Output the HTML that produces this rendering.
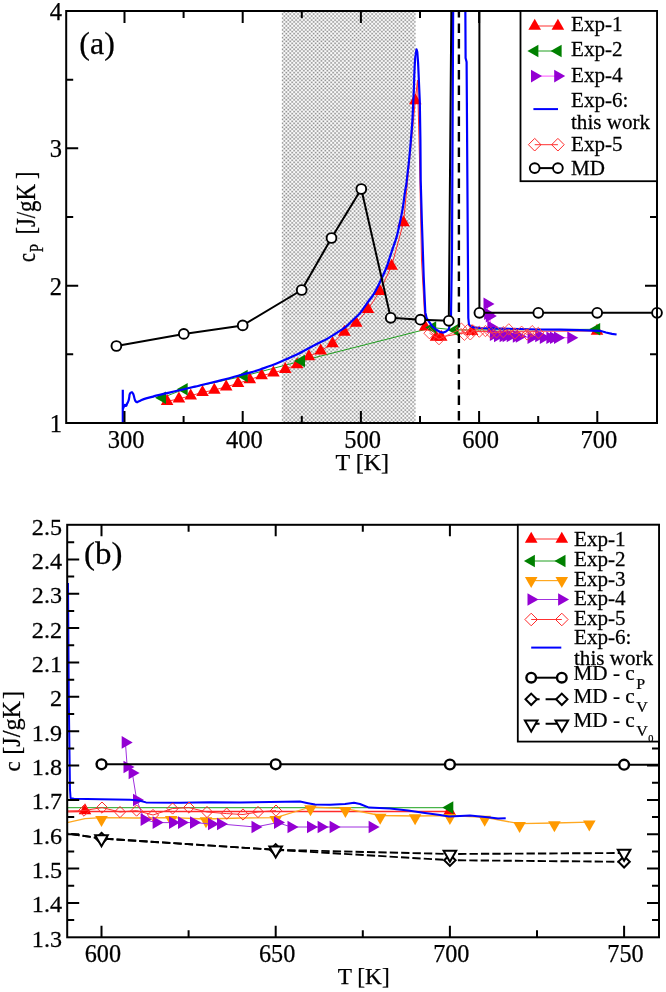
<!DOCTYPE html>
<html lang="en"><head><meta charset="utf-8"><title>Specific heat figure</title>
<style>html,body{margin:0;padding:0;background:#fff;}svg{display:block;}text{font-family:'Liberation Serif', 'DejaVu Serif', serif;fill:#000;stroke:#000;stroke-width:0.25px;}</style>
</head><body>
<svg width="666" height="992" viewBox="0 0 666 992">
<defs>
<clipPath id="clipA"><rect x="66.2" y="11.0" width="590.8" height="412.0"/></clipPath>
<clipPath id="clipB"><rect x="67.2" y="524.8" width="591.8" height="412.5"/></clipPath>
</defs>
<rect width="666" height="992" fill="#fff"/>
<clipPath id="clipS"><rect x="281.6" y="11.0" width="134.1" height="412.0"/></clipPath>
<g clip-path="url(#clipS)">
<rect x="281.6" y="11.0" width="134.1" height="412.0" fill="#fdfdfd"/>
<path d="M281.6 10.25H415.7M281.6 14.15H415.7M281.6 18.05H415.7M281.6 21.95H415.7M281.6 25.85H415.7M281.6 29.75H415.7M281.6 33.65H415.7M281.6 37.55H415.7M281.6 41.45H415.7M281.6 45.35H415.7M281.6 49.25H415.7M281.6 53.15H415.7M281.6 57.05H415.7M281.6 60.95H415.7M281.6 64.85H415.7M281.6 68.75H415.7M281.6 72.65H415.7M281.6 76.55H415.7M281.6 80.45H415.7M281.6 84.35H415.7M281.6 88.25H415.7M281.6 92.15H415.7M281.6 96.05H415.7M281.6 99.95H415.7M281.6 103.85H415.7M281.6 107.75H415.7M281.6 111.65H415.7M281.6 115.55H415.7M281.6 119.45H415.7M281.6 123.35H415.7M281.6 127.25H415.7M281.6 131.15H415.7M281.6 135.05H415.7M281.6 138.95H415.7M281.6 142.85H415.7M281.6 146.75H415.7M281.6 150.65H415.7M281.6 154.55H415.7M281.6 158.45H415.7M281.6 162.35H415.7M281.6 166.25H415.7M281.6 170.15H415.7M281.6 174.05H415.7M281.6 177.95H415.7M281.6 181.85H415.7M281.6 185.75H415.7M281.6 189.65H415.7M281.6 193.55H415.7M281.6 197.45H415.7M281.6 201.35H415.7M281.6 205.25H415.7M281.6 209.15H415.7M281.6 213.05H415.7M281.6 216.95H415.7M281.6 220.85H415.7M281.6 224.75H415.7M281.6 228.65H415.7M281.6 232.55H415.7M281.6 236.45H415.7M281.6 240.35H415.7M281.6 244.25H415.7M281.6 248.15H415.7M281.6 252.05H415.7M281.6 255.95H415.7M281.6 259.85H415.7M281.6 263.75H415.7M281.6 267.65H415.7M281.6 271.55H415.7M281.6 275.45H415.7M281.6 279.35H415.7M281.6 283.25H415.7M281.6 287.15H415.7M281.6 291.05H415.7M281.6 294.95H415.7M281.6 298.85H415.7M281.6 302.75H415.7M281.6 306.65H415.7M281.6 310.55H415.7M281.6 314.45H415.7M281.6 318.35H415.7M281.6 322.25H415.7M281.6 326.15H415.7M281.6 330.05H415.7M281.6 333.95H415.7M281.6 337.85H415.7M281.6 341.75H415.7M281.6 345.65H415.7M281.6 349.55H415.7M281.6 353.45H415.7M281.6 357.35H415.7M281.6 361.25H415.7M281.6 365.15H415.7M281.6 369.05H415.7M281.6 372.95H415.7M281.6 376.85H415.7M281.6 380.75H415.7M281.6 384.65H415.7M281.6 388.55H415.7M281.6 392.45H415.7M281.6 396.35H415.7M281.6 400.25H415.7M281.6 404.15H415.7M281.6 408.05H415.7M281.6 411.95H415.7M281.6 415.85H415.7M281.6 419.75H415.7M281.6 423.65H415.7" stroke="#d5d5d5" stroke-width="2.30" stroke-dasharray="2.30 1.60" stroke-dashoffset="0.300" fill="none"/>
<path d="M281.6 8.30H415.7M281.6 12.20H415.7M281.6 16.10H415.7M281.6 20.00H415.7M281.6 23.90H415.7M281.6 27.80H415.7M281.6 31.70H415.7M281.6 35.60H415.7M281.6 39.50H415.7M281.6 43.40H415.7M281.6 47.30H415.7M281.6 51.20H415.7M281.6 55.10H415.7M281.6 59.00H415.7M281.6 62.90H415.7M281.6 66.80H415.7M281.6 70.70H415.7M281.6 74.60H415.7M281.6 78.50H415.7M281.6 82.40H415.7M281.6 86.30H415.7M281.6 90.20H415.7M281.6 94.10H415.7M281.6 98.00H415.7M281.6 101.90H415.7M281.6 105.80H415.7M281.6 109.70H415.7M281.6 113.60H415.7M281.6 117.50H415.7M281.6 121.40H415.7M281.6 125.30H415.7M281.6 129.20H415.7M281.6 133.10H415.7M281.6 137.00H415.7M281.6 140.90H415.7M281.6 144.80H415.7M281.6 148.70H415.7M281.6 152.60H415.7M281.6 156.50H415.7M281.6 160.40H415.7M281.6 164.30H415.7M281.6 168.20H415.7M281.6 172.10H415.7M281.6 176.00H415.7M281.6 179.90H415.7M281.6 183.80H415.7M281.6 187.70H415.7M281.6 191.60H415.7M281.6 195.50H415.7M281.6 199.40H415.7M281.6 203.30H415.7M281.6 207.20H415.7M281.6 211.10H415.7M281.6 215.00H415.7M281.6 218.90H415.7M281.6 222.80H415.7M281.6 226.70H415.7M281.6 230.60H415.7M281.6 234.50H415.7M281.6 238.40H415.7M281.6 242.30H415.7M281.6 246.20H415.7M281.6 250.10H415.7M281.6 254.00H415.7M281.6 257.90H415.7M281.6 261.80H415.7M281.6 265.70H415.7M281.6 269.60H415.7M281.6 273.50H415.7M281.6 277.40H415.7M281.6 281.30H415.7M281.6 285.20H415.7M281.6 289.10H415.7M281.6 293.00H415.7M281.6 296.90H415.7M281.6 300.80H415.7M281.6 304.70H415.7M281.6 308.60H415.7M281.6 312.50H415.7M281.6 316.40H415.7M281.6 320.30H415.7M281.6 324.20H415.7M281.6 328.10H415.7M281.6 332.00H415.7M281.6 335.90H415.7M281.6 339.80H415.7M281.6 343.70H415.7M281.6 347.60H415.7M281.6 351.50H415.7M281.6 355.40H415.7M281.6 359.30H415.7M281.6 363.20H415.7M281.6 367.10H415.7M281.6 371.00H415.7M281.6 374.90H415.7M281.6 378.80H415.7M281.6 382.70H415.7M281.6 386.60H415.7M281.6 390.50H415.7M281.6 394.40H415.7M281.6 398.30H415.7M281.6 402.20H415.7M281.6 406.10H415.7M281.6 410.00H415.7M281.6 413.90H415.7M281.6 417.80H415.7M281.6 421.70H415.7M281.6 425.60H415.7" stroke="#d5d5d5" stroke-width="2.30" stroke-dasharray="2.30 1.60" stroke-dashoffset="2.250" fill="none"/>
<path d="M281.6 10.25H415.7M281.6 14.15H415.7M281.6 18.05H415.7M281.6 21.95H415.7M281.6 25.85H415.7M281.6 29.75H415.7M281.6 33.65H415.7M281.6 37.55H415.7M281.6 41.45H415.7M281.6 45.35H415.7M281.6 49.25H415.7M281.6 53.15H415.7M281.6 57.05H415.7M281.6 60.95H415.7M281.6 64.85H415.7M281.6 68.75H415.7M281.6 72.65H415.7M281.6 76.55H415.7M281.6 80.45H415.7M281.6 84.35H415.7M281.6 88.25H415.7M281.6 92.15H415.7M281.6 96.05H415.7M281.6 99.95H415.7M281.6 103.85H415.7M281.6 107.75H415.7M281.6 111.65H415.7M281.6 115.55H415.7M281.6 119.45H415.7M281.6 123.35H415.7M281.6 127.25H415.7M281.6 131.15H415.7M281.6 135.05H415.7M281.6 138.95H415.7M281.6 142.85H415.7M281.6 146.75H415.7M281.6 150.65H415.7M281.6 154.55H415.7M281.6 158.45H415.7M281.6 162.35H415.7M281.6 166.25H415.7M281.6 170.15H415.7M281.6 174.05H415.7M281.6 177.95H415.7M281.6 181.85H415.7M281.6 185.75H415.7M281.6 189.65H415.7M281.6 193.55H415.7M281.6 197.45H415.7M281.6 201.35H415.7M281.6 205.25H415.7M281.6 209.15H415.7M281.6 213.05H415.7M281.6 216.95H415.7M281.6 220.85H415.7M281.6 224.75H415.7M281.6 228.65H415.7M281.6 232.55H415.7M281.6 236.45H415.7M281.6 240.35H415.7M281.6 244.25H415.7M281.6 248.15H415.7M281.6 252.05H415.7M281.6 255.95H415.7M281.6 259.85H415.7M281.6 263.75H415.7M281.6 267.65H415.7M281.6 271.55H415.7M281.6 275.45H415.7M281.6 279.35H415.7M281.6 283.25H415.7M281.6 287.15H415.7M281.6 291.05H415.7M281.6 294.95H415.7M281.6 298.85H415.7M281.6 302.75H415.7M281.6 306.65H415.7M281.6 310.55H415.7M281.6 314.45H415.7M281.6 318.35H415.7M281.6 322.25H415.7M281.6 326.15H415.7M281.6 330.05H415.7M281.6 333.95H415.7M281.6 337.85H415.7M281.6 341.75H415.7M281.6 345.65H415.7M281.6 349.55H415.7M281.6 353.45H415.7M281.6 357.35H415.7M281.6 361.25H415.7M281.6 365.15H415.7M281.6 369.05H415.7M281.6 372.95H415.7M281.6 376.85H415.7M281.6 380.75H415.7M281.6 384.65H415.7M281.6 388.55H415.7M281.6 392.45H415.7M281.6 396.35H415.7M281.6 400.25H415.7M281.6 404.15H415.7M281.6 408.05H415.7M281.6 411.95H415.7M281.6 415.85H415.7M281.6 419.75H415.7M281.6 423.65H415.7" stroke="#949494" stroke-width="1.25" stroke-dasharray="1.25 2.65" stroke-dashoffset="3.675" fill="none"/>
<path d="M281.6 8.30H415.7M281.6 12.20H415.7M281.6 16.10H415.7M281.6 20.00H415.7M281.6 23.90H415.7M281.6 27.80H415.7M281.6 31.70H415.7M281.6 35.60H415.7M281.6 39.50H415.7M281.6 43.40H415.7M281.6 47.30H415.7M281.6 51.20H415.7M281.6 55.10H415.7M281.6 59.00H415.7M281.6 62.90H415.7M281.6 66.80H415.7M281.6 70.70H415.7M281.6 74.60H415.7M281.6 78.50H415.7M281.6 82.40H415.7M281.6 86.30H415.7M281.6 90.20H415.7M281.6 94.10H415.7M281.6 98.00H415.7M281.6 101.90H415.7M281.6 105.80H415.7M281.6 109.70H415.7M281.6 113.60H415.7M281.6 117.50H415.7M281.6 121.40H415.7M281.6 125.30H415.7M281.6 129.20H415.7M281.6 133.10H415.7M281.6 137.00H415.7M281.6 140.90H415.7M281.6 144.80H415.7M281.6 148.70H415.7M281.6 152.60H415.7M281.6 156.50H415.7M281.6 160.40H415.7M281.6 164.30H415.7M281.6 168.20H415.7M281.6 172.10H415.7M281.6 176.00H415.7M281.6 179.90H415.7M281.6 183.80H415.7M281.6 187.70H415.7M281.6 191.60H415.7M281.6 195.50H415.7M281.6 199.40H415.7M281.6 203.30H415.7M281.6 207.20H415.7M281.6 211.10H415.7M281.6 215.00H415.7M281.6 218.90H415.7M281.6 222.80H415.7M281.6 226.70H415.7M281.6 230.60H415.7M281.6 234.50H415.7M281.6 238.40H415.7M281.6 242.30H415.7M281.6 246.20H415.7M281.6 250.10H415.7M281.6 254.00H415.7M281.6 257.90H415.7M281.6 261.80H415.7M281.6 265.70H415.7M281.6 269.60H415.7M281.6 273.50H415.7M281.6 277.40H415.7M281.6 281.30H415.7M281.6 285.20H415.7M281.6 289.10H415.7M281.6 293.00H415.7M281.6 296.90H415.7M281.6 300.80H415.7M281.6 304.70H415.7M281.6 308.60H415.7M281.6 312.50H415.7M281.6 316.40H415.7M281.6 320.30H415.7M281.6 324.20H415.7M281.6 328.10H415.7M281.6 332.00H415.7M281.6 335.90H415.7M281.6 339.80H415.7M281.6 343.70H415.7M281.6 347.60H415.7M281.6 351.50H415.7M281.6 355.40H415.7M281.6 359.30H415.7M281.6 363.20H415.7M281.6 367.10H415.7M281.6 371.00H415.7M281.6 374.90H415.7M281.6 378.80H415.7M281.6 382.70H415.7M281.6 386.60H415.7M281.6 390.50H415.7M281.6 394.40H415.7M281.6 398.30H415.7M281.6 402.20H415.7M281.6 406.10H415.7M281.6 410.00H415.7M281.6 413.90H415.7M281.6 417.80H415.7M281.6 421.70H415.7M281.6 425.60H415.7" stroke="#949494" stroke-width="1.25" stroke-dasharray="1.25 2.65" stroke-dashoffset="1.725" fill="none"/>
</g>
<g clip-path="url(#clipA)">
<polyline points="167.1,401.3 178.9,398.9 190.7,395.7 202.5,392.4 214.3,390.0 226.2,386.8 238.0,383.4 249.8,379.5 261.6,375.6 273.4,372.9 285.3,369.3 297.1,364.5 308.9,356.6 320.7,350.8 332.5,343.6 344.4,332.1 356.2,323.0 368.0,309.3 379.8,291.2 391.6,266.0 403.5,222.6 415.3,100.5 417.5,80.0 419.5,160.0 421.5,260.0 425.2,326.8 436.0,337.0 441.2,337.0 472.0,331.4 597.0,331.0" fill="none" stroke="#ff3030" stroke-width="1" stroke-linejoin="round" />
<polyline points="162.3,397.7 184.0,389.3 244.0,376.0 301.3,361.0 432.5,327.6 455.0,330.0 596.5,329.3" fill="none" stroke="#20a020" stroke-width="1" stroke-linejoin="round" />
</g>
<polygon points="167.1,394.0 160.8,405.0 173.4,405.0" fill="#ff0000" />
<polygon points="178.9,391.6 172.6,402.6 185.2,402.6" fill="#ff0000" />
<polygon points="190.7,388.4 184.4,399.4 197.0,399.4" fill="#ff0000" />
<polygon points="202.5,385.1 196.2,396.1 208.8,396.1" fill="#ff0000" />
<polygon points="214.3,382.7 208.0,393.7 220.6,393.7" fill="#ff0000" />
<polygon points="226.2,379.5 219.9,390.5 232.5,390.5" fill="#ff0000" />
<polygon points="238.0,376.1 231.7,387.1 244.3,387.1" fill="#ff0000" />
<polygon points="249.8,372.2 243.5,383.2 256.1,383.2" fill="#ff0000" />
<polygon points="261.6,368.3 255.3,379.3 267.9,379.3" fill="#ff0000" />
<polygon points="273.4,365.6 267.1,376.6 279.7,376.6" fill="#ff0000" />
<polygon points="285.3,362.0 279.0,373.0 291.6,373.0" fill="#ff0000" />
<polygon points="297.1,357.2 290.8,368.2 303.4,368.2" fill="#ff0000" />
<polygon points="308.9,349.3 302.6,360.3 315.2,360.3" fill="#ff0000" />
<polygon points="320.7,343.5 314.4,354.5 327.0,354.5" fill="#ff0000" />
<polygon points="332.5,336.3 326.2,347.3 338.8,347.3" fill="#ff0000" />
<polygon points="344.4,324.8 338.1,335.8 350.7,335.8" fill="#ff0000" />
<polygon points="356.2,315.7 349.9,326.7 362.5,326.7" fill="#ff0000" />
<polygon points="368.0,302.0 361.7,313.0 374.3,313.0" fill="#ff0000" />
<polygon points="379.8,283.9 373.5,294.9 386.1,294.9" fill="#ff0000" />
<polygon points="391.6,258.7 385.3,269.7 397.9,269.7" fill="#ff0000" />
<polygon points="403.5,215.3 397.2,226.3 409.8,226.3" fill="#ff0000" />
<polygon points="415.3,93.2 409.0,104.2 421.6,104.2" fill="#ff0000" />
<polygon points="425.2,319.5 418.9,330.5 431.5,330.5" fill="#ff0000" />
<polygon points="436.0,329.7 429.7,340.7 442.3,340.7" fill="#ff0000" />
<polygon points="441.2,329.7 434.9,340.7 447.5,340.7" fill="#ff0000" />
<polygon points="472.0,324.1 465.7,335.1 478.3,335.1" fill="#ff0000" />
<polygon points="597.0,323.7 590.7,334.7 603.3,334.7" fill="#ff0000" />
<polygon points="155.0,397.7 166.0,391.4 166.0,404.0" fill="#008000"/>
<polygon points="176.7,389.3 187.7,383.0 187.7,395.6" fill="#008000"/>
<polygon points="236.7,376.0 247.7,369.7 247.7,382.3" fill="#008000"/>
<polygon points="294.0,361.0 305.0,354.7 305.0,367.3" fill="#008000"/>
<polygon points="425.2,327.6 436.2,321.3 436.2,333.9" fill="#008000"/>
<polygon points="447.7,330.0 458.7,323.7 458.7,336.3" fill="#008000"/>
<polygon points="589.2,329.3 600.2,323.0 600.2,335.6" fill="#008000"/>
<polyline points="487.2,303.9 487.8,313.7 489.5,316.1 491.0,326.9 493.6,334.7 497.7,335.9 503.3,335.9 506.3,335.9 510.4,335.9 516.5,336.5 519.5,336.5 531.2,337.7 538.9,335.9 543.5,337.7 550.1,337.7 553.7,337.7 557.7,337.7 571.0,337.7" fill="none" stroke="#ff50ff" stroke-width="1" stroke-linejoin="round" />
<polygon points="494.5,303.9 483.5,297.6 483.5,310.2" fill="#9400d3"/>
<polygon points="495.1,313.7 484.1,307.4 484.1,320.0" fill="#9400d3"/>
<polygon points="496.8,316.1 485.8,309.8 485.8,322.4" fill="#9400d3"/>
<polygon points="498.3,326.9 487.3,320.6 487.3,333.2" fill="#9400d3"/>
<polygon points="500.9,334.7 489.9,328.4 489.9,341.0" fill="#9400d3"/>
<polygon points="505.0,335.9 494.0,329.6 494.0,342.2" fill="#9400d3"/>
<polygon points="510.6,335.9 499.6,329.6 499.6,342.2" fill="#9400d3"/>
<polygon points="513.6,335.9 502.6,329.6 502.6,342.2" fill="#9400d3"/>
<polygon points="517.7,335.9 506.7,329.6 506.7,342.2" fill="#9400d3"/>
<polygon points="523.8,336.5 512.8,330.2 512.8,342.8" fill="#9400d3"/>
<polygon points="526.8,336.5 515.8,330.2 515.8,342.8" fill="#9400d3"/>
<polygon points="538.5,337.7 527.5,331.4 527.5,344.0" fill="#9400d3"/>
<polygon points="546.2,335.9 535.2,329.6 535.2,342.2" fill="#9400d3"/>
<polygon points="550.8,337.7 539.8,331.4 539.8,344.0" fill="#9400d3"/>
<polygon points="557.4,337.7 546.4,331.4 546.4,344.0" fill="#9400d3"/>
<polygon points="561.0,337.7 550.0,331.4 550.0,344.0" fill="#9400d3"/>
<polygon points="565.0,337.7 554.0,331.4 554.0,344.0" fill="#9400d3"/>
<polygon points="578.3,337.7 567.3,331.4 567.3,344.0" fill="#9400d3"/>
<g clip-path="url(#clipA)">
<polyline points="122.8,424.0 122.8,389.8" fill="none" stroke="#0000ff" stroke-width="2.2" stroke-linejoin="round" />
<path d="M122.80 409.00C123.20 408.17 123.27 407.90 124.00 406.50C124.73 405.10 124.30 405.03 125.00 404.80C125.70 404.57 125.37 406.23 126.10 405.80C126.83 405.37 126.43 405.10 127.20 403.50C127.97 401.90 127.73 403.00 128.40 401.00C129.07 399.00 128.77 399.73 129.20 397.50C129.63 395.27 129.20 395.87 129.70 394.30C130.20 392.73 130.00 393.43 130.70 392.80C131.40 392.17 131.10 392.23 131.80 392.40C132.50 392.57 132.20 392.43 132.80 393.30C133.40 394.17 132.93 392.93 133.60 395.00C134.27 397.07 134.07 397.40 134.80 399.50C135.53 401.60 135.07 400.43 135.80 401.30C136.53 402.17 135.93 402.10 137.00 402.10C138.07 402.10 136.73 402.30 139.00 401.30C141.27 400.30 139.47 400.57 143.80 399.10C148.13 397.63 146.77 398.30 152.00 396.90C157.23 395.50 148.83 397.47 159.50 394.90C170.17 392.33 167.17 393.17 184.00 389.20C200.83 385.23 191.33 387.63 210.00 383.00C228.67 378.37 222.00 380.27 240.00 375.30C258.00 370.33 248.00 373.70 264.00 368.10C280.00 362.50 272.00 365.70 288.00 358.50C304.00 351.30 296.00 354.90 312.00 346.50C328.00 338.10 322.33 342.13 336.00 333.30C349.67 324.47 342.90 329.67 353.00 320.00C363.10 310.33 357.30 316.97 366.30 304.30C375.30 291.63 371.53 299.57 380.00 282.00C388.47 264.43 385.07 271.40 391.70 251.60C398.33 231.80 395.37 243.13 399.90 222.60C404.43 202.07 403.00 204.20 405.30 190.00C407.60 175.80 404.93 196.67 406.80 180.00C408.67 163.33 408.73 166.10 410.90 140.00C413.07 113.90 412.07 125.70 413.30 101.70C414.53 77.70 413.83 83.57 414.60 68.00C415.37 52.43 415.27 59.33 415.60 55.00" fill="none" stroke="#0000ff" stroke-width="2.2" stroke-linejoin="round" />
<polyline points="415.6,55.0 416.5,49.3 417.3,52.0 418.1,63.0 419.8,101.7 420.4,140.0 420.7,180.0 421.9,222.6 423.7,277.0 425.3,312.4 426.6,318.0 428.8,321.4 432.0,326.0 436.0,329.5 440.0,332.0 443.5,332.6 446.0,331.5 448.6,329.5 450.2,324.0 451.0,316.0 452.0,250.0 453.2,0.0" fill="none" stroke="#0000ff" stroke-width="2.2" stroke-linejoin="round" />
<polyline points="465.3,0.0 465.6,58.0 466.6,62.0 468.3,318.0 468.9,324.0 470.3,326.5 474.0,327.3 480.0,328.0 500.0,328.6 520.0,329.0 540.0,329.5 560.0,329.6 580.0,330.2 600.0,330.8 606.0,332.5 612.0,333.8 616.6,334.5" fill="none" stroke="#0000ff" stroke-width="2.2" stroke-linejoin="round" />
<polyline points="429.4,333.2 439.0,339.2 461.4,328.6 464.4,334.8 467.4,330.2 470.3,334.4 473.2,330.5 479.3,331.7 485.4,331.1 491.0,332.9 496.6,332.3 503.2,332.1 508.8,329.3 514.9,333.5 521.6,331.7 527.1,334.5 532.2,331.1 538.3,332.9" fill="none" stroke="#ff4a4a" stroke-width="0.9" stroke-linejoin="round" />
</g>
<polygon points="429.4,327.6 435.0,333.2 429.4,338.8 423.8,333.2" fill="none" stroke="#ff3a3a" stroke-width="0.9"/>
<polygon points="439.0,333.6 444.6,339.2 439.0,344.8 433.4,339.2" fill="none" stroke="#ff3a3a" stroke-width="0.9"/>
<polygon points="461.4,323.0 467.0,328.6 461.4,334.2 455.8,328.6" fill="none" stroke="#ff3a3a" stroke-width="0.9"/>
<polygon points="464.4,329.2 470.0,334.8 464.4,340.4 458.8,334.8" fill="none" stroke="#ff3a3a" stroke-width="0.9"/>
<polygon points="467.4,324.6 473.0,330.2 467.4,335.8 461.8,330.2" fill="none" stroke="#ff3a3a" stroke-width="0.9"/>
<polygon points="470.3,328.8 475.9,334.4 470.3,340.0 464.7,334.4" fill="none" stroke="#ff3a3a" stroke-width="0.9"/>
<polygon points="473.2,324.9 478.8,330.5 473.2,336.1 467.6,330.5" fill="none" stroke="#ff3a3a" stroke-width="0.9"/>
<polygon points="479.3,326.1 484.9,331.7 479.3,337.3 473.7,331.7" fill="none" stroke="#ff3a3a" stroke-width="0.9"/>
<polygon points="485.4,325.5 491.0,331.1 485.4,336.7 479.8,331.1" fill="none" stroke="#ff3a3a" stroke-width="0.9"/>
<polygon points="491.0,327.3 496.6,332.9 491.0,338.5 485.4,332.9" fill="none" stroke="#ff3a3a" stroke-width="0.9"/>
<polygon points="496.6,326.7 502.2,332.3 496.6,337.9 491.0,332.3" fill="none" stroke="#ff3a3a" stroke-width="0.9"/>
<polygon points="503.2,326.5 508.8,332.1 503.2,337.7 497.6,332.1" fill="none" stroke="#ff3a3a" stroke-width="0.9"/>
<polygon points="508.8,323.7 514.4,329.3 508.8,334.9 503.2,329.3" fill="none" stroke="#ff3a3a" stroke-width="0.9"/>
<polygon points="514.9,327.9 520.5,333.5 514.9,339.1 509.3,333.5" fill="none" stroke="#ff3a3a" stroke-width="0.9"/>
<polygon points="521.6,326.1 527.2,331.7 521.6,337.3 516.0,331.7" fill="none" stroke="#ff3a3a" stroke-width="0.9"/>
<polygon points="527.1,328.9 532.7,334.5 527.1,340.1 521.5,334.5" fill="none" stroke="#ff3a3a" stroke-width="0.9"/>
<polygon points="532.2,325.5 537.8,331.1 532.2,336.7 526.6,331.1" fill="none" stroke="#ff3a3a" stroke-width="0.9"/>
<polygon points="538.3,327.3 543.9,332.9 538.3,338.5 532.7,332.9" fill="none" stroke="#ff3a3a" stroke-width="0.9"/>
<g clip-path="url(#clipA)">
<polyline points="116.4,346.0 183.8,333.9 242.7,325.4 301.7,290.0 331.5,238.0 361.3,189.0 390.7,317.8 420.4,319.7 448.8,320.8 451.4,0.0" fill="none" stroke="#000" stroke-width="2" stroke-linejoin="round" />
<polyline points="479.4,0.0 479.4,312.8 538.3,312.8 597.2,312.8 657.0,312.8" fill="none" stroke="#000" stroke-width="2" stroke-linejoin="round" />
<line x1="458.9" y1="11.0" x2="458.9" y2="423.0" stroke="#000" stroke-width="2.4" stroke-dasharray="9.3 6.2" stroke-dashoffset="2.9"/>
</g>
<circle cx="116.4" cy="346.0" r="4.9" fill="#fff" stroke="#000" stroke-width="1.9"/>
<circle cx="183.8" cy="333.9" r="4.9" fill="#fff" stroke="#000" stroke-width="1.9"/>
<circle cx="242.7" cy="325.4" r="4.9" fill="#fff" stroke="#000" stroke-width="1.9"/>
<circle cx="301.7" cy="290.0" r="4.9" fill="#fff" stroke="#000" stroke-width="1.9"/>
<circle cx="331.5" cy="238.0" r="4.9" fill="#fff" stroke="#000" stroke-width="1.9"/>
<circle cx="361.3" cy="189.0" r="4.9" fill="#fff" stroke="#000" stroke-width="1.9"/>
<circle cx="390.7" cy="317.8" r="4.9" fill="#fff" stroke="#000" stroke-width="1.9"/>
<circle cx="420.4" cy="319.7" r="4.9" fill="#fff" stroke="#000" stroke-width="1.9"/>
<circle cx="448.8" cy="320.8" r="4.9" fill="#fff" stroke="#000" stroke-width="1.9"/>
<circle cx="479.4" cy="312.8" r="4.9" fill="#fff" stroke="#000" stroke-width="1.9"/>
<circle cx="538.3" cy="312.8" r="4.9" fill="#fff" stroke="#000" stroke-width="1.9"/>
<circle cx="597.2" cy="312.8" r="4.9" fill="#fff" stroke="#000" stroke-width="1.9"/>
<circle cx="657.0" cy="312.8" r="4.9" fill="#fff" stroke="#000" stroke-width="1.9"/>
<rect x="66.2" y="11.0" width="590.8" height="412.0" fill="none" stroke="#000" stroke-width="2"/>
<path d="M124.5 423.0v-12.0M124.5 11.0v12.0M183.6 423.0v-7.0M183.6 11.0v7.0M242.7 423.0v-12.0M242.7 11.0v12.0M301.8 423.0v-7.0M301.8 11.0v7.0M360.9 423.0v-12.0M360.9 11.0v12.0M420.0 423.0v-7.0M420.0 11.0v7.0M479.1 423.0v-12.0M479.1 11.0v12.0M538.2 423.0v-7.0M538.2 11.0v7.0M597.3 423.0v-12.0M597.3 11.0v12.0M66.2 354.3h7.0M657.0 354.3h-7.0M66.2 285.7h12.0M657.0 285.7h-12.0M66.2 217.0h7.0M657.0 217.0h-7.0M66.2 148.3h12.0M657.0 148.3h-12.0M66.2 79.7h7.0M657.0 79.7h-7.0" stroke="#000" stroke-width="2" fill="none"/>
<text x="126.1" y="447.9" font-size="24.5" text-anchor="middle" >300</text>
<text x="244.3" y="447.9" font-size="24.5" text-anchor="middle" >400</text>
<text x="362.5" y="447.9" font-size="24.5" text-anchor="middle" >500</text>
<text x="480.7" y="447.9" font-size="24.5" text-anchor="middle" >600</text>
<text x="598.9" y="447.9" font-size="24.5" text-anchor="middle" >700</text>
<text x="62.0" y="431.9" font-size="24.5" text-anchor="end" >1</text>
<text x="62.0" y="294.6" font-size="24.5" text-anchor="end" >2</text>
<text x="62.0" y="157.2" font-size="24.5" text-anchor="end" >3</text>
<text x="62.0" y="19.9" font-size="24.5" text-anchor="end" >4</text>
<text x="362.3" y="470.4" font-size="24" text-anchor="middle" >T [K]</text>
<text x="79.3" y="54.0" font-size="32" text-anchor="start" >(a)</text>
<g transform="translate(34.5,262) rotate(-90) scale(1,1.24)"><text font-size="22.7"><tspan x="0" y="0" font-size="20">c</tspan><tspan x="9.8" y="7.2" font-size="15">P</tspan><tspan x="27.4" y="0">[J/gK</tspan><tspan x="83.1" y="0">]</tspan></text></g>
<rect x="520.5" y="11.0" width="136.5" height="170.2" fill="#fff" stroke="#000" stroke-width="1.8"/>
<polyline points="534.7,26.0 557.9,26.0" fill="none" stroke="#ff3030" stroke-width="1" stroke-linejoin="round" />
<polygon points="534.7,18.7 528.4,29.7 541.0,29.7" fill="#ff0000" />
<polygon points="557.9,18.7 551.6,29.7 564.2,29.7" fill="#ff0000" />
<text transform="translate(571.0,30.6) scale(1.030,1)" font-size="20.5" text-anchor="start" >Exp-1</text>
<polyline points="534.7,51.0 557.9,51.0" fill="none" stroke="#20a020" stroke-width="1" stroke-linejoin="round" />
<polygon points="527.4,51.0 538.4,44.7 538.4,57.3" fill="#008000"/>
<polygon points="550.6,51.0 561.6,44.7 561.6,57.3" fill="#008000"/>
<text transform="translate(571.0,56.3) scale(1.030,1)" font-size="20.5" text-anchor="start" >Exp-2</text>
<polyline points="534.7,76.1 557.9,76.1" fill="none" stroke="#ff50ff" stroke-width="1" stroke-linejoin="round" />
<polygon points="542.0,76.1 531.0,69.8 531.0,82.4" fill="#9400d3"/>
<polygon points="565.2,76.1 554.2,69.8 554.2,82.4" fill="#9400d3"/>
<text transform="translate(571.0,82.0) scale(1.030,1)" font-size="20.5" text-anchor="start" >Exp-4</text>
<polyline points="533.4,109.1 558.0,109.1" fill="none" stroke="#0000ff" stroke-width="2" stroke-linejoin="round" />
<text transform="translate(571.0,106.7) scale(1.030,1)" font-size="20.5" text-anchor="start" >Exp-6:</text>
<text transform="translate(571.0,128.8) scale(1.030,1)" font-size="20.5" text-anchor="start" >this work</text>
<polyline points="534.7,144.7 557.9,144.7" fill="none" stroke="#ff3030" stroke-width="1" stroke-linejoin="round" />
<polygon points="534.7,138.4 541.0,144.7 534.7,151.0 528.4,144.7" fill="none" stroke="#ff2a2a" stroke-width="1.0"/>
<polygon points="557.9,138.4 564.2,144.7 557.9,151.0 551.6,144.7" fill="none" stroke="#ff2a2a" stroke-width="1.0"/>
<text transform="translate(571.0,150.6) scale(1.030,1)" font-size="20.5" text-anchor="start" >Exp-5</text>
<polyline points="534.7,168.1 557.9,168.1" fill="none" stroke="#000" stroke-width="2" stroke-linejoin="round" />
<circle cx="534.7" cy="168.1" r="4.9" fill="#fff" stroke="#000" stroke-width="1.9"/>
<circle cx="557.9" cy="168.1" r="4.9" fill="#fff" stroke="#000" stroke-width="1.9"/>
<text transform="translate(571.0,175.4) scale(1.030,1)" font-size="20.5" text-anchor="start" >MD</text>
<g clip-path="url(#clipB)">
<polyline points="60.0,812.0 85.0,811.5 449.6,811.5" fill="none" stroke="#ff2a2a" stroke-width="1.3" stroke-linejoin="round" />
<polyline points="60.0,807.6 449.6,807.6" fill="none" stroke="#48b448" stroke-width="1.4" stroke-linejoin="round" />
<polyline points="60.0,824.0 67.2,822.6 85.0,818.6 101.5,817.6 136.3,818.0 171.2,817.6 206.0,819.0 240.9,818.0 275.7,817.6 310.5,807.0 345.4,808.6 380.2,815.5 415.1,816.0 449.9,815.6 484.7,817.4 519.6,823.7 554.4,823.0 589.3,822.2" fill="none" stroke="#ffa820" stroke-width="1.3" stroke-linejoin="round" />
</g>
<polygon points="85.0,803.3 78.7,814.3 91.3,814.3" fill="#ff0000" />
<polygon points="449.6,803.7 443.3,814.7 455.9,814.7" fill="#ff0000" />
<polygon points="101.5,826.9 95.2,815.9 107.8,815.9" fill="#ff9a00" />
<polygon points="171.2,826.9 164.9,815.9 177.5,815.9" fill="#ff9a00" />
<polygon points="206.0,828.3 199.7,817.3 212.3,817.3" fill="#ff9a00" />
<polygon points="275.7,826.9 269.4,815.9 282.0,815.9" fill="#ff9a00" />
<polygon points="310.5,816.3 304.2,805.3 316.8,805.3" fill="#ff9a00" />
<polygon points="345.4,817.9 339.1,806.9 351.7,806.9" fill="#ff9a00" />
<polygon points="380.2,824.8 373.9,813.8 386.5,813.8" fill="#ff9a00" />
<polygon points="415.1,825.3 408.8,814.3 421.4,814.3" fill="#ff9a00" />
<polygon points="449.9,824.9 443.6,813.9 456.2,813.9" fill="#ff9a00" />
<polygon points="484.7,826.7 478.4,815.7 491.0,815.7" fill="#ff9a00" />
<polygon points="519.6,833.0 513.3,822.0 525.9,822.0" fill="#ff9a00" />
<polygon points="554.4,832.3 548.1,821.3 560.7,821.3" fill="#ff9a00" />
<polygon points="589.3,831.5 583.0,820.5 595.6,820.5" fill="#ff9a00" />
<polyline points="125.4,742.4 127.2,767.0 132.3,773.0 136.7,800.0 144.3,819.6 156.3,822.6 172.7,822.6 181.7,822.6 193.7,822.6 211.7,824.0 220.7,824.0 255.2,827.0 277.7,822.6 291.2,827.0 310.7,827.0 321.3,827.0 333.3,827.0 372.3,827.0" fill="none" stroke="#a030e0" stroke-width="1" stroke-linejoin="round" />
<polygon points="132.7,742.4 121.7,736.1 121.7,748.7" fill="#9400d3"/>
<polygon points="134.5,767.0 123.5,760.7 123.5,773.3" fill="#9400d3"/>
<polygon points="139.6,773.0 128.6,766.7 128.6,779.3" fill="#9400d3"/>
<polygon points="144.0,800.0 133.0,793.7 133.0,806.3" fill="#9400d3"/>
<polygon points="151.6,819.6 140.6,813.3 140.6,825.9" fill="#9400d3"/>
<polygon points="163.6,822.6 152.6,816.3 152.6,828.9" fill="#9400d3"/>
<polygon points="180.0,822.6 169.0,816.3 169.0,828.9" fill="#9400d3"/>
<polygon points="189.0,822.6 178.0,816.3 178.0,828.9" fill="#9400d3"/>
<polygon points="201.0,822.6 190.0,816.3 190.0,828.9" fill="#9400d3"/>
<polygon points="219.0,824.0 208.0,817.7 208.0,830.3" fill="#9400d3"/>
<polygon points="228.0,824.0 217.0,817.7 217.0,830.3" fill="#9400d3"/>
<polygon points="262.5,827.0 251.5,820.7 251.5,833.3" fill="#9400d3"/>
<polygon points="285.0,822.6 274.0,816.3 274.0,828.9" fill="#9400d3"/>
<polygon points="298.5,827.0 287.5,820.7 287.5,833.3" fill="#9400d3"/>
<polygon points="318.0,827.0 307.0,820.7 307.0,833.3" fill="#9400d3"/>
<polygon points="328.6,827.0 317.6,820.7 317.6,833.3" fill="#9400d3"/>
<polygon points="340.6,827.0 329.6,820.7 329.6,833.3" fill="#9400d3"/>
<polygon points="379.6,827.0 368.6,820.7 368.6,833.3" fill="#9400d3"/>
<g clip-path="url(#clipB)">
<polyline points="60.0,811.0 84.0,810.6 102.0,807.6 120.0,812.0 136.6,810.6 153.0,815.0 172.6,808.5 189.0,807.6 207.0,812.0 226.7,813.6 243.0,814.5 258.0,812.0 276.0,810.6" fill="none" stroke="#ff3030" stroke-width="1" stroke-linejoin="round" />
<polyline points="68.0,583.0 68.8,700.0 70.0,790.0 70.6,798.2 74.0,798.8 100.0,799.3 130.0,799.8 139.0,800.5 146.0,802.4 180.0,802.8 210.0,802.3 240.0,802.5 270.0,801.9 300.0,801.6 308.0,803.2 315.0,804.6 330.0,804.8 345.0,804.0 354.0,802.8 360.0,804.0 369.0,807.6 390.0,808.6 408.0,810.6 425.0,813.0 440.0,815.0 449.0,816.6 460.0,816.0 470.0,815.4 480.0,816.5 490.0,817.6 498.0,818.6 505.7,818.3" fill="none" stroke="#0000ff" stroke-width="2" stroke-linejoin="round" />
</g>
<polygon points="84.0,805.0 89.6,810.6 84.0,816.2 78.4,810.6" fill="none" stroke="#ff2a2a" stroke-width="1.0"/>
<polygon points="102.0,802.0 107.6,807.6 102.0,813.2 96.4,807.6" fill="none" stroke="#ff2a2a" stroke-width="1.0"/>
<polygon points="120.0,806.4 125.6,812.0 120.0,817.6 114.4,812.0" fill="none" stroke="#ff2a2a" stroke-width="1.0"/>
<polygon points="136.6,805.0 142.2,810.6 136.6,816.2 131.0,810.6" fill="none" stroke="#ff2a2a" stroke-width="1.0"/>
<polygon points="153.0,809.4 158.6,815.0 153.0,820.6 147.4,815.0" fill="none" stroke="#ff2a2a" stroke-width="1.0"/>
<polygon points="172.6,802.9 178.2,808.5 172.6,814.1 167.0,808.5" fill="none" stroke="#ff2a2a" stroke-width="1.0"/>
<polygon points="189.0,802.0 194.6,807.6 189.0,813.2 183.4,807.6" fill="none" stroke="#ff2a2a" stroke-width="1.0"/>
<polygon points="207.0,806.4 212.6,812.0 207.0,817.6 201.4,812.0" fill="none" stroke="#ff2a2a" stroke-width="1.0"/>
<polygon points="226.7,808.0 232.3,813.6 226.7,819.2 221.1,813.6" fill="none" stroke="#ff2a2a" stroke-width="1.0"/>
<polygon points="243.0,808.9 248.6,814.5 243.0,820.1 237.4,814.5" fill="none" stroke="#ff2a2a" stroke-width="1.0"/>
<polygon points="258.0,806.4 263.6,812.0 258.0,817.6 252.4,812.0" fill="none" stroke="#ff2a2a" stroke-width="1.0"/>
<polygon points="276.0,805.0 281.6,810.6 276.0,816.2 270.4,810.6" fill="none" stroke="#ff2a2a" stroke-width="1.0"/>
<polygon points="442.3,807.6 453.3,801.3 453.3,813.9" fill="#008000"/>
<polyline points="101.5,764.3 275.7,764.3 449.9,764.5 624.1,764.7 659.0,764.7" fill="none" stroke="#000" stroke-width="2" stroke-linejoin="round" />
<g clip-path="url(#clipB)">
<polyline points="60.0,832.4 101.5,838.5 275.7,849.8 449.9,860.2 624.1,861.8" fill="none" stroke="#000" stroke-width="1.9" stroke-linejoin="round" stroke-dasharray="8.3 3.1"/>
<polyline points="60.0,832.4 101.5,838.5 275.7,849.8 449.9,854.0 624.1,853.0" fill="none" stroke="#000" stroke-width="1.9" stroke-linejoin="round" stroke-dasharray="8.3 3.1"/>
</g>
<circle cx="101.5" cy="764.3" r="4.9" fill="#fff" stroke="#000" stroke-width="2.4"/>
<circle cx="275.7" cy="764.3" r="4.9" fill="#fff" stroke="#000" stroke-width="2.4"/>
<circle cx="449.9" cy="764.5" r="4.9" fill="#fff" stroke="#000" stroke-width="2.4"/>
<circle cx="624.1" cy="764.7" r="4.9" fill="#fff" stroke="#000" stroke-width="2.4"/>
<polygon points="101.5,832.8 107.2,838.5 101.5,844.2 95.8,838.5" fill="#fff" stroke="#000" stroke-width="2.0"/>
<polygon points="275.7,844.1 281.4,849.8 275.7,855.5 270.0,849.8" fill="#fff" stroke="#000" stroke-width="2.0"/>
<polygon points="449.9,854.5 455.6,860.2 449.9,865.9 444.2,860.2" fill="#fff" stroke="#000" stroke-width="2.0"/>
<polygon points="624.1,856.1 629.8,861.8 624.1,867.5 618.4,861.8" fill="#fff" stroke="#000" stroke-width="2.0"/>
<polygon points="101.5,846.3 95.2,835.3 107.8,835.3" fill="#fff" stroke="#000" stroke-width="2.0" stroke-linejoin="miter"/>
<polygon points="275.7,857.6 269.4,846.6 282.0,846.6" fill="#fff" stroke="#000" stroke-width="2.0" stroke-linejoin="miter"/>
<polygon points="449.9,861.8 443.6,850.8 456.2,850.8" fill="#fff" stroke="#000" stroke-width="2.0" stroke-linejoin="miter"/>
<polygon points="624.1,860.8 617.8,849.8 630.4,849.8" fill="#fff" stroke="#000" stroke-width="2.0" stroke-linejoin="miter"/>
<rect x="67.2" y="524.8" width="591.8" height="412.5" fill="none" stroke="#000" stroke-width="2"/>
<path d="M101.5 937.3v-11.5M101.5 524.8v11.5M188.6 937.3v-7.0M188.6 524.8v7.0M275.7 937.3v-11.5M275.7 524.8v11.5M362.8 937.3v-7.0M362.8 524.8v7.0M449.9 937.3v-11.5M449.9 524.8v11.5M537.0 937.3v-7.0M537.0 524.8v7.0M624.1 937.3v-11.5M624.1 524.8v11.5M67.2 920.1h7.0M659.0 920.1h-7.0M67.2 902.9h12.0M659.0 902.9h-12.0M67.2 885.8h7.0M659.0 885.8h-7.0M67.2 868.6h12.0M659.0 868.6h-12.0M67.2 851.4h7.0M659.0 851.4h-7.0M67.2 834.2h12.0M659.0 834.2h-12.0M67.2 817.1h7.0M659.0 817.1h-7.0M67.2 799.9h12.0M659.0 799.9h-12.0M67.2 782.7h7.0M659.0 782.7h-7.0M67.2 765.5h12.0M659.0 765.5h-12.0M67.2 748.4h7.0M659.0 748.4h-7.0M67.2 731.2h12.0M659.0 731.2h-12.0M67.2 714.0h7.0M659.0 714.0h-7.0M67.2 696.8h12.0M659.0 696.8h-12.0M67.2 679.7h7.0M659.0 679.7h-7.0M67.2 662.5h12.0M659.0 662.5h-12.0M67.2 645.3h7.0M659.0 645.3h-7.0M67.2 628.1h12.0M659.0 628.1h-12.0M67.2 611.0h7.0M659.0 611.0h-7.0M67.2 593.8h12.0M659.0 593.8h-12.0M67.2 576.6h7.0M659.0 576.6h-7.0M67.2 559.4h12.0M659.0 559.4h-12.0M67.2 542.3h7.0M659.0 542.3h-7.0" stroke="#000" stroke-width="2" fill="none"/>
<text x="102.9" y="961.8" font-size="24.2" text-anchor="middle" >600</text>
<text x="277.1" y="961.8" font-size="24.2" text-anchor="middle" >650</text>
<text x="451.3" y="961.8" font-size="24.2" text-anchor="middle" >700</text>
<text x="625.5" y="961.8" font-size="24.2" text-anchor="middle" >750</text>
<text transform="translate(62.0,946.7) scale(1.040,1)" font-size="23.2" text-anchor="end" >1.3</text>
<text transform="translate(62.0,912.3) scale(1.040,1)" font-size="23.2" text-anchor="end" >1.4</text>
<text transform="translate(62.0,878.0) scale(1.040,1)" font-size="23.2" text-anchor="end" >1.5</text>
<text transform="translate(62.0,843.6) scale(1.040,1)" font-size="23.2" text-anchor="end" >1.6</text>
<text transform="translate(62.0,809.3) scale(1.040,1)" font-size="23.2" text-anchor="end" >1.7</text>
<text transform="translate(62.0,774.9) scale(1.040,1)" font-size="23.2" text-anchor="end" >1.8</text>
<text transform="translate(62.0,740.6) scale(1.040,1)" font-size="23.2" text-anchor="end" >1.9</text>
<text transform="translate(62.0,706.2) scale(1.040,1)" font-size="23.2" text-anchor="end" >2</text>
<text transform="translate(62.0,671.9) scale(1.040,1)" font-size="23.2" text-anchor="end" >2.1</text>
<text transform="translate(62.0,637.5) scale(1.040,1)" font-size="23.2" text-anchor="end" >2.2</text>
<text transform="translate(62.0,603.2) scale(1.040,1)" font-size="23.2" text-anchor="end" >2.3</text>
<text transform="translate(62.0,568.8) scale(1.040,1)" font-size="23.2" text-anchor="end" >2.4</text>
<text transform="translate(62.0,534.5) scale(1.040,1)" font-size="23.2" text-anchor="end" >2.5</text>
<text x="363.7" y="984.3" font-size="23.3" text-anchor="middle" >T [K]</text>
<text transform="translate(84.0,564.3) scale(1.030,1)" font-size="32" text-anchor="start" >(b)</text>
<g transform="translate(19.8,771.5) rotate(-90) scale(1,1.04)"><text font-size="24.2"><tspan x="0" y="0" font-size="23">c</tspan><tspan x="16.7" y="0">[J/gK</tspan><tspan x="72.6" y="0">]</tspan></text></g>
<rect x="517.8" y="524.8" width="141.2" height="216.8" fill="#fff" stroke="#000" stroke-width="1.8"/>
<polyline points="531.2,539.0 561.8,539.0" fill="none" stroke="#ff3030" stroke-width="1" stroke-linejoin="round" />
<polygon points="531.2,531.7 524.9,542.7 537.5,542.7" fill="#ff0000" />
<polygon points="561.8,531.7 555.5,542.7 568.1,542.7" fill="#ff0000" />
<text transform="translate(574.0,546.2) scale(1.030,1)" font-size="20.5" text-anchor="start" >Exp-1</text>
<polyline points="531.2,561.0 561.8,561.0" fill="none" stroke="#20a020" stroke-width="1" stroke-linejoin="round" />
<polygon points="523.9,561.0 534.9,554.7 534.9,567.3" fill="#008000"/>
<polygon points="554.5,561.0 565.5,554.7 565.5,567.3" fill="#008000"/>
<text transform="translate(574.0,566.2) scale(1.030,1)" font-size="20.5" text-anchor="start" >Exp-2</text>
<polyline points="531.2,580.6 561.8,580.6" fill="none" stroke="#ffa820" stroke-width="1.2" stroke-linejoin="round" />
<polygon points="531.2,587.9 524.9,576.9 537.5,576.9" fill="#ff9a00" />
<polygon points="561.8,587.9 555.5,576.9 568.1,576.9" fill="#ff9a00" />
<text transform="translate(574.0,585.9) scale(1.030,1)" font-size="20.5" text-anchor="start" >Exp-3</text>
<polyline points="531.2,599.5 561.8,599.5" fill="none" stroke="#a030e0" stroke-width="1" stroke-linejoin="round" />
<polygon points="538.5,599.5 527.5,593.2 527.5,605.8" fill="#9400d3"/>
<polygon points="569.1,599.5 558.1,593.2 558.1,605.8" fill="#9400d3"/>
<text transform="translate(574.0,605.1) scale(1.030,1)" font-size="20.5" text-anchor="start" >Exp-4</text>
<polyline points="531.2,619.5 561.8,619.5" fill="none" stroke="#ff3030" stroke-width="1" stroke-linejoin="round" />
<polygon points="531.2,613.2 537.5,619.5 531.2,625.8 524.9,619.5" fill="none" stroke="#ff2a2a" stroke-width="1.0"/>
<polygon points="561.8,613.2 568.1,619.5 561.8,625.8 555.5,619.5" fill="none" stroke="#ff2a2a" stroke-width="1.0"/>
<text transform="translate(574.0,625.0) scale(1.030,1)" font-size="20.5" text-anchor="start" >Exp-5</text>
<polyline points="531.2,647.6 561.3,647.6" fill="none" stroke="#0000ff" stroke-width="2" stroke-linejoin="round" />
<text transform="translate(574.0,644.0) scale(1.030,1)" font-size="20.5" text-anchor="start" >Exp-6:</text>
<text transform="translate(574.0,665.2) scale(1.030,1)" font-size="20.5" text-anchor="start" >this work</text>
<polyline points="531.2,677.7 561.8,677.7" fill="none" stroke="#000" stroke-width="2" stroke-linejoin="round" />
<circle cx="531.2" cy="677.7" r="4.8" fill="#fff" stroke="#000" stroke-width="2.4"/>
<circle cx="561.8" cy="677.7" r="4.8" fill="#fff" stroke="#000" stroke-width="2.4"/>
<text transform="translate(573.5,680.2) scale(1.035,1)" font-size="20.5">MD - c<tspan font-size="15.5" dx="1.5" dy="8.8">P</tspan></text>
<polyline points="531.2,699.3 561.8,699.3" fill="none" stroke="#000" stroke-width="2" stroke-linejoin="round" stroke-dasharray="8.4 6 30"/>
<polygon points="531.2,693.6 536.9,699.3 531.2,705.0 525.5,699.3" fill="#fff" stroke="#000" stroke-width="2.0"/>
<polygon points="561.8,693.6 567.5,699.3 561.8,705.0 556.1,699.3" fill="#fff" stroke="#000" stroke-width="2.0"/>
<text transform="translate(573.5,703.4) scale(1.035,1)" font-size="20.5">MD - c<tspan font-size="15.5" dx="1.5" dy="8.3">V</tspan></text>
<polyline points="531.2,723.8 561.8,723.8" fill="none" stroke="#000" stroke-width="2" stroke-linejoin="round" stroke-dasharray="8.4 6 30"/>
<polygon points="531.2,731.6 524.9,720.6 537.5,720.6" fill="#fff" stroke="#000" stroke-width="2.0" stroke-linejoin="miter"/>
<polygon points="561.8,731.6 555.5,720.6 568.1,720.6" fill="#fff" stroke="#000" stroke-width="2.0" stroke-linejoin="miter"/>
<text transform="translate(573.5,726.9) scale(1.035,1)" font-size="20.5">MD - c<tspan font-size="15.5" dx="1.5" dy="8.8">V</tspan><tspan font-size="10" dx="0.3" dy="6.3">0</tspan></text>
</svg>
</body></html>
